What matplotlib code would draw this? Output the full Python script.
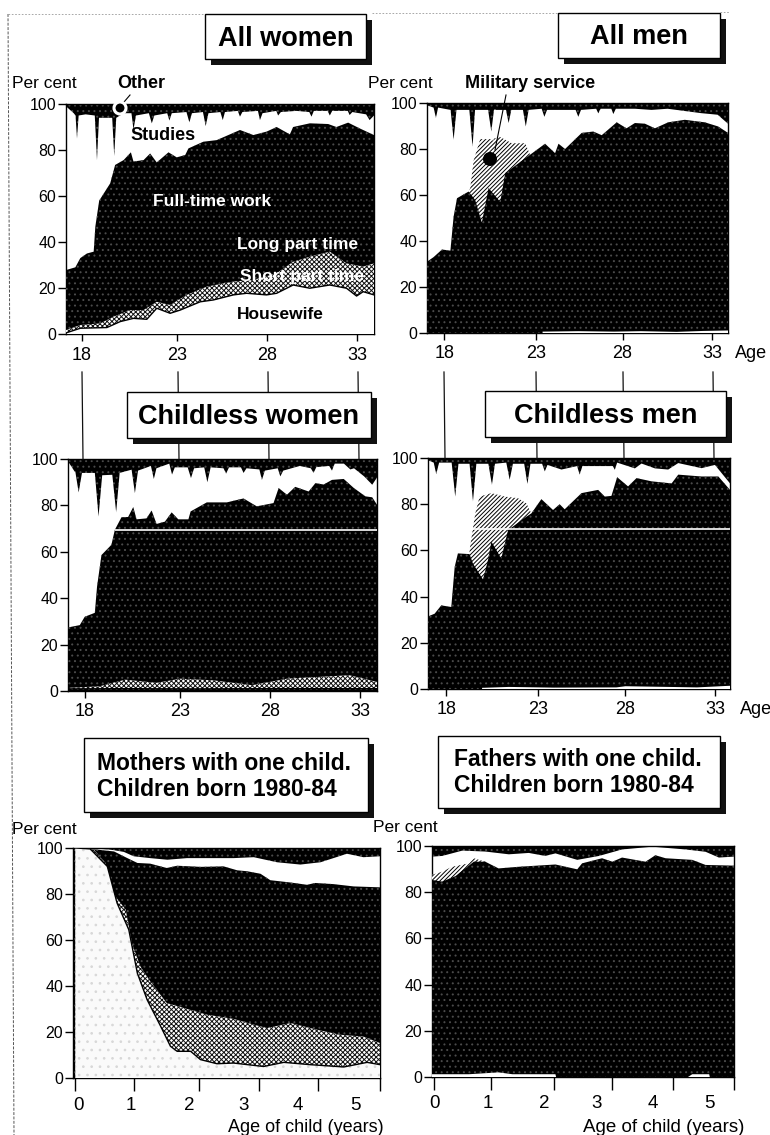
import matplotlib
matplotlib.use("Agg")
import matplotlib.pyplot as plt
from matplotlib.lines import Line2D
from matplotlib.patches import Rectangle, Circle

plt.rcParams['font.family'] = ['Liberation Sans', 'DejaVu Sans']
plt.rcParams['hatch.linewidth'] = 0.7

W, H = 770, 1135

# ---- All women
aw_other_x = [17.13, 17.55, 17.65, 17.73, 17.82, 18.2, 18.7, 18.82, 18.93, 19.3, 19.65, 19.76, 19.87, 20.3, 20.7, 20.81,
              20.95, 21.65, 21.81, 21.95, 22.65, 22.77, 22.9, 23.7, 23.86, 24, 24.6, 24.75, 24.9, 25.55, 25.68, 25.8,
              26.5, 26.62, 26.75, 27.6, 27.71, 27.85, 28.6, 28.7, 28.85, 29.7, 30.4, 30.52, 30.65, 31.4, 31.52, 31.65,
              32.5, 32.6, 32.75, 33.5, 33.69, 33.93]
aw_other_y = [99, 96, 95, 85, 95, 95.5, 95, 75.6, 94, 94, 94, 77.4, 94, 96, 96, 89,
              95, 96, 91.6, 95, 96, 92.8, 96, 96.5, 92, 96, 96.5, 90.4, 96, 96.5, 93, 96.5,
              97, 94.5, 96.5, 97, 93, 96, 97, 95, 96.5, 97, 96.5, 94.5, 97, 97, 95, 97,
              97, 95.2, 96.5, 95.5, 93, 95]
aw_work_x = [17.13, 17.64, 17.91, 18.27, 18.64, 18.73, 18.94, 19.54, 19.81, 20.27, 20.67, 20.81, 21.36, 21.72, 22.08,
             22.72, 23.17, 23.63, 23.81, 24.62, 25.35, 26.62, 27.35, 28.07, 28.62, 29.34, 29.52, 30.43, 31.43, 31.88,
             32.52, 33.15, 33.93]
aw_work_y = [27.8, 29, 33, 35, 35.8, 46.7, 58, 65.5, 73.5, 75.6, 79, 75, 75.6, 78.5, 74.6,
             79, 76.8, 77.8, 80.7, 83.6, 84.3, 88.7, 86.5, 88, 90, 86.8, 90, 91.6, 91.3, 90,
             91.9, 89.4, 86.5]
aw_short_x = [17.13, 17.91, 19, 19.72, 20.63, 21.36, 22.08, 22.81, 23.72, 24.81, 26.26, 27.35, 28.62, 29.52, 30.43,
              31.52, 32.43, 33.34, 33.93]
aw_short_y = [1.7, 3.9, 4.6, 7.5, 10.4, 10.4, 14, 12.6, 17, 20.6, 22.8, 23.5, 26.4, 31.4, 33.6,
              35.8, 30.7, 29.3, 30.7]
aw_house_x = [17.18, 17.91, 19.36, 20.09, 20.81, 21.54, 22.08, 22.81, 23.36, 24.45, 25.17, 26.26, 26.98, 28.07, 28.62,
              29.52, 30.43, 31.52, 32.43, 32.98, 33.34, 33.93]
aw_house_y = [0.6, 2.5, 2.8, 5.4, 6.8, 6.4, 11.2, 9, 10.4, 14, 14.8, 17, 17.7, 17, 17.7,
              21.3, 19.9, 21.3, 19.9, 16.5, 18.4, 17]

# ---- All men
am_other_x = [17.03, 17.4, 17.53, 17.65, 18.35, 18.52, 18.68, 19.4, 19.58, 19.72, 20.45, 20.63, 20.78, 21.45, 21.6,
              21.75, 22.4, 22.56, 22.72, 23.45, 23.6, 23.75, 25.35, 25.5, 25.65, 26.5, 26.62, 26.75, 27.35, 27.46,
              27.6, 28.67, 29.6, 30.5, 32.36, 33.3, 33.88]
am_other_y = [99, 98, 93.5, 98, 97, 84, 97, 97, 81, 97, 97, 87.6, 97, 97, 91.3,
              97, 97, 89.8, 97, 97.5, 94, 97, 97, 94, 97, 97.5, 95.5, 97.5, 97.5, 95.2,
              97.5, 97.5, 97, 97.5, 95.6, 94.9, 91]
am_mil_x = [19.36, 19.45, 19.64, 20.01, 20.66, 21.13, 21.78, 22.53, 22.8]
am_mil_y = [61.5, 63, 75, 84.3, 84.3, 85.2, 82.5, 82.5, 77.5]
am_work_x = [17.03, 17.4, 17.87, 18.34, 18.52, 18.71, 19.36, 19.73, 20.1, 20.48, 21.13, 21.41, 22.15, 22.8, 23.64, 24.2,
             24.39, 24.76, 25.69, 26.34, 26.81, 27.65, 28.2, 28.67, 29.23, 29.79, 30.53, 31.46, 32.58, 33.33, 33.88]
am_work_y = [31, 33, 36.3, 35.8, 50.6, 58.6, 61.5, 57.8, 48, 63, 57, 69.5, 73.8, 77.5, 82.3, 78.2,
             82.3, 80, 87, 87.6, 86, 91.6, 89, 91.3, 91, 89, 91.6, 92.7, 91.6, 89.8, 87]
am_house_x = [23.5, 25.5, 27.5, 29, 31, 32.5, 33.88]
am_house_y = [0.6, 0.8, 0.6, 0.8, 0.5, 0.9, 1.1]

# ---- Childless women
cw_other_x = [17.09, 17.5, 17.67, 17.85, 18.55, 18.75, 18.95, 19.5, 19.71, 19.9, 20.55, 20.73, 20.9, 21.6, 21.76, 21.9,
              22.6, 22.75, 22.9, 23.6, 23.78, 23.95, 24.5, 24.67, 24.85, 25.55, 25.69, 25.85, 26.5, 26.64, 26.8, 27.5,
              27.64, 27.8, 28.5, 28.64, 28.8, 29.7, 30.3, 30.45, 30.6, 31.3, 31.45, 31.6, 32.1, 32.45, 32.65, 33.2,
              33.64, 33.9]
cw_other_y = [99, 94, 85.6, 94, 94, 75.2, 93, 93.2, 77, 94, 95.4, 85.3, 95, 97, 91.4, 96,
              98, 93.3, 96.4, 96.4, 91.8, 96, 96.4, 90, 96.4, 96, 93.7, 96.4, 96.4, 94, 96, 95.5,
              91, 95, 96, 92.5, 95, 97, 96, 94, 96.5, 97, 95, 98, 98, 95.5, 96, 92.5,
              88.9, 92]
cw_work_x = [17.09, 17.73, 18, 18.55, 18.67, 18.91, 19.45, 19.64, 20, 20.36, 20.64, 20.82, 21.36, 21.64, 21.91, 22.36,
             22.73, 23.09, 23.64, 23.76, 24.64, 25.73, 26.64, 27.36, 28.27, 28.55, 29, 29.45, 30.18, 30.55, 31, 31.45,
             32.09, 32.64, 33.27, 33.64, 33.9]
cw_work_y = [27.4, 28.4, 32, 33.7, 45, 58.6, 63, 69.5, 74.9, 75, 79.3, 74, 74.4, 77.8, 72, 73,
             77, 74, 74, 77.4, 81.3, 81.3, 83, 79.6, 81, 87.5, 84.6, 88, 86, 89.6, 89, 91,
             91.4, 87.5, 83.9, 83.5, 80.3]
cw_short_x = [17.18, 18.8, 20.2, 21.9, 23.2, 25, 27.1, 29, 32.4, 33.9]
cw_short_y = [1.4, 2, 4.9, 3.5, 5.3, 4.6, 2.5, 5.3, 6.8, 3.9]
cw_house_x = [17.09, 20, 24, 28, 33.9]
cw_house_y = [0.9, 1, 0.9, 1, 1]

# ---- Childless men
cm_other_x = [16.98, 17.3, 17.44, 17.6, 18.3, 18.5, 18.68, 19.3, 19.49, 19.68, 20.35, 20.55, 20.72, 21.35, 21.54, 21.72,
              22.35, 22.53, 22.7, 23.35, 23.5, 23.65, 24.43, 25.3, 25.45, 25.6, 26.48, 27.3, 27.41, 27.54, 28.53, 28.9,
              29.65, 30.39, 30.95, 32.25, 33, 33.84]
cm_other_y = [99, 98, 93, 98, 98, 83.3, 97.5, 97.5, 81.2, 97.5, 97.5, 88.4, 97.5, 98, 90.6, 97.5,
              97.5, 88.8, 97.5, 97.5, 94.2, 97, 95, 96.5, 92.8, 96.5, 96.5, 96.5, 94.9, 98, 95.5, 97.6,
              95.5, 95, 97.8, 95.6, 97, 89]
cm_mil_x = [19.3, 19.62, 19.86, 20.52, 21.26, 22, 22.47, 22.75]
cm_mil_y = [60, 76, 83.3, 84.8, 83.3, 82.6, 80.4, 76]
cm_work_x = [16.98, 17.35, 17.72, 18.28, 18.47, 18.65, 19.3, 19.49, 20.05, 20.33, 20.52, 21.07, 21.45, 22.47, 22.75,
             23.31, 23.96, 24.33, 24.61, 25.55, 26.48, 26.85, 27.22, 27.54, 28.15, 28.62, 29.46, 30.58, 30.95, 32.25,
             33.19, 33.84]
cm_work_y = [31.4, 32.6, 36.2, 35.5, 52.9, 58.7, 58.4, 54.3, 47.4, 55.8, 63.8, 56.5, 68.8, 74.6, 76,
             82.2, 77.5, 80, 77.8, 84.8, 86.2, 83.3, 83.6, 91.7, 87.7, 91.3, 89.9, 89, 92.8, 92,
             92, 86.2]
cm_house_x = [20, 21.5, 24, 27.5, 28, 32, 33.84]
cm_house_y = [0.5, 0.9, 0.6, 0.7, 1.2, 0.7, 1.4]

# ---- Mothers with one child
mo_other_x = [0, 0.35, 0.57, 0.79, 0.95, 1.22, 1.5, 1.82, 2.31, 2.58, 2.91, 3.29, 3.67, 4, 4.21, 4.43, 4.7, 4.97]
mo_other_y = [100, 99.7, 99.3, 98.3, 96.4, 95.6, 94.9, 95.6, 95.6, 95.6, 96, 93.8, 92.8, 93.8, 95.6, 97.5, 96, 96.4]
mo_work_x = [0, 0.35, 0.63, 0.84, 1.01, 1.22, 1.49, 1.66, 2.04, 2.42, 2.64, 2.8, 3.02, 3.18, 3.51, 3.78, 3.91, 4.21,
             4.54, 4.97]
mo_work_y = [100, 99.3, 98.5, 95.7, 93.5, 93.2, 91.3, 92.3, 91.8, 92, 90.3, 89.9, 88.8, 86, 85, 84, 84.8, 84.3,
             83.3, 82.9]
mo_short_x = [0, 0.3, 0.49, 0.65, 0.82, 0.92, 1.06, 1.22, 1.49, 1.77, 2.15, 2.58, 2.91, 3.13, 3.51, 3.94, 4.32, 4.7,
              4.97]
mo_short_y = [100, 99.3, 93.5, 79, 73.2, 58.7, 48.5, 42, 32.6, 30.4, 27.5, 25.7, 23.2, 21.7, 23.9, 21, 18.8, 18,
              15.2]
mo_house_x = [0, 0.24, 0.52, 0.68, 0.87, 1.01, 1.17, 1.39, 1.55, 1.66, 1.88, 2.04, 2.31, 2.58, 3.07, 3.4, 3.83, 4.38,
              4.76, 4.97]
mo_house_y = [100, 99.6, 92, 76, 64.5, 45.6, 34, 22.5, 13.8, 11.6, 11.6, 8, 6.2, 6.5, 5, 6.8, 5.8, 4.8,
              6.8, 5.8]

# ---- Fathers with one child
fa_other_x = [-0.03, 0.14, 0.47, 0.85, 1.24, 1.57, 1.84, 2.01, 2.37, 2.73, 3.11, 3.61, 4.16, 4.49, 4.71, 4.96]
fa_other_y = [95.4, 95.7, 98, 97.6, 96.4, 97, 95.7, 96.8, 94, 95.7, 98.5, 99.7, 98.5, 97.5, 95, 95.4]
fa_mil_x = [-0.03, 0.14, 0.3, 0.58, 0.66, 0.85]
fa_mil_y = [87.5, 88.9, 91, 92.5, 94.7, 93.2]
fa_work_x = [-0.03, 0.14, 0.36, 0.66, 0.85, 1.07, 1.4, 2.01, 2.37, 2.45, 2.78, 2.95, 3.11, 3.5, 3.66, 3.83, 4.27, 4.49,
             4.96]
fa_work_y = [85.3, 84.6, 87, 93.2, 93.2, 90.3, 91, 92, 89.9, 92.5, 94.7, 93.2, 95, 93.2, 96, 94.7, 94, 91.8,
             91.5]
fa_house_x = [-0.03, 0.58, 1.07, 1.3, 2.01, 2.02, 4.2, 4.27, 4.55, 4.56]
fa_house_y = [1.2, 1.2, 2, 1.2, 1.2, 0, 0, 1.2, 1.2, 0]

age_ticks = [18, 23, 28, 33]
child_ticks = [0, 1, 2, 3, 4, 5]
y_ticks = [0, 20, 40, 60, 80, 100]

fig = plt.figure(figsize=(W / 100, H / 100), dpi=100, facecolor='white')


def fx(x):
    return x / W


def fy(y):
    return 1 - y / H


def panel(left, right, top, bottom, xlim):
    ax = fig.add_axes([fx(left), fy(bottom), fx(right - left), (bottom - top) / H])
    ax.set_xlim(*xlim)
    ax.set_ylim(0, 100)
    ax.set_yticks(y_ticks)
    ax.tick_params(axis='y', length=6, width=1, labelsize=11.5, pad=1)
    ax.tick_params(axis='x', length=5, width=1, labelsize=13, pad=4)
    for s in ax.spines.values():
        s.set_linewidth(1)
    return ax


def black(ax, x, y):
    # speckled black, like the scanned original
    ax.fill_between(x, 0, y, facecolor='black', edgecolor='#4a4a4a', hatch='...', linewidth=0, zorder=ax.z)
    ax.z += 1


def white(ax, x, y):
    ax.fill_between(x, 0, y, facecolor='white', linewidth=0, zorder=ax.z)
    ax.z += 1


def stack(ax, xlim, other, work, mil=None, short=None, house=None, house_dots=False, house_black=False):
    ax.z = 1
    black(ax, list(xlim), [100, 100])
    white(ax, *other)
    if mil is not None:
        ax.fill_between(*mil, 0, facecolor='white', edgecolor='black', hatch='////////', linewidth=0, zorder=ax.z)
        ax.z += 1
    black(ax, *work)
    if short is not None:
        ax.fill_between(*short, 0, facecolor='white', edgecolor='#111111', hatch='xxxxxxx', linewidth=0, zorder=ax.z)
        ax.z += 1
    if house is not None:
        if house_black:
            black(ax, *house)
        elif house_dots:
            ax.fill_between(*house, 0, facecolor='#fafafa', edgecolor='#d8d8d8', hatch='..', linewidth=0, zorder=ax.z)
        else:
            ax.fill_between(*house, 0, facecolor='white', linewidth=0, zorder=ax.z)
        ax.z += 1
        if short is not None:
            ax.plot(*house, color='black', lw=1, zorder=ax.z)
            ax.z += 1


# ---- top row
xl = (17.13, 33.93)
ax1 = panel(66, 374, 104, 334, xl)
stack(ax1, xl, (aw_other_x, aw_other_y), (aw_work_x, aw_work_y), short=(aw_short_x, aw_short_y),
      house=(aw_house_x, aw_house_y))
ax1.set_xticks([18, 23.18, 28.09, 33], age_ticks)

xl = (17.03, 33.88)
ax2 = panel(427, 728, 103, 333, xl)
stack(ax2, xl, (am_other_x, am_other_y), (am_work_x, am_work_y), mil=(am_mil_x, am_mil_y),
      house=(am_house_x, am_house_y))
ax2.set_xticks([18, 23.12, 27.98, 33], age_ticks)

# ---- middle row
xl = (17.09, 33.9)
ax3 = panel(68, 377, 459, 691, xl)
stack(ax3, xl, (cw_other_x, cw_other_y), (cw_work_x, cw_work_y), short=(cw_short_x, cw_short_y),
      house=(cw_house_x, cw_house_y), house_black=True)
ax3.hlines(69.5, 19.64, 33.9, color='white', lw=1.2, zorder=20)
ax3.set_xticks([18, 23.18, 28.09, 33], age_ticks)

xl = (16.98, 33.84)
ax4 = panel(428, 730, 458, 689, xl)
stack(ax4, xl, (cm_other_x, cm_other_y), (cm_work_x, cm_work_y), mil=(cm_mil_x, cm_mil_y),
      house=(cm_house_x, cm_house_y))
ax4.hlines(69.2, 19.5, 33.84, color='white', lw=1.2, zorder=20)
ax4.set_xticks([18, 23.12, 28, 33], age_ticks)

# ---- bottom row, tick marks and labels do not line up in the original
xl = (-0.04, 4.97)
ax5 = panel(73, 380, 848, 1078, xl)
stack(ax5, xl, (mo_other_x, mo_other_y), (mo_work_x, mo_work_y), short=(mo_short_x, mo_short_y),
      house=(mo_house_x, mo_house_y), house_dots=True)
ax5.set_xticks([0, 0.96, 2.01, 2.99, 3.96, 4.97], [''] * 6)

xl = (-0.03, 4.96)
ax6 = panel(432, 734, 846, 1077, xl)
stack(ax6, xl, (fa_other_x, fa_other_y), (fa_work_x, fa_work_y), mil=(fa_mil_x, fa_mil_y),
      house=(fa_house_x, fa_house_y))
ax6.set_xticks([0, 0.95, 1.98, 2.94, 3.95, 4.96], [''] * 6)

for ax in [ax5, ax6]:
    ax.tick_params(axis='x', length=9)


def txt(x, y, s, **kw):
    kw.setdefault('fontsize', 12.5)
    kw.setdefault('va', 'center')
    fig.text(fx(x), fy(y), s, **kw)


for x, s in zip([78, 131, 189, 244, 298, 355], child_ticks):
    txt(x, 1106, str(s), ha='center', fontsize=13.5)
for x, s in zip([435, 488, 544, 597, 653, 709], child_ticks):
    txt(x, 1104, str(s), ha='center', fontsize=13.5)

# ---- small labels
txt(12, 84, 'Per cent')
txt(368, 83, 'Per cent')
txt(12, 829, 'Per cent')
txt(373, 827, 'Per cent')
txt(735, 353, 'Age', fontsize=13)
txt(740, 709, 'Age', fontsize=13)
txt(228, 1128, 'Age of child (years)', fontsize=13)
txt(583, 1127, 'Age of child (years)', fontsize=13.5)
txt(117, 84, 'Other', fontweight='bold', fontsize=13)
txt(465, 84, 'Military service', fontweight='bold', fontsize=13)
txt(130, 135, 'Studies', fontweight='bold', fontsize=13)
txt(153, 201, 'Full-time work', color='white', fontweight='bold', fontsize=12.5)
txt(237, 244, 'Long part time', color='white', fontweight='bold', fontsize=12.5)
txt(240, 277, 'Short part time', color='white', fontweight='bold', fontsize=12.5)
txt(237, 314, 'Housewife', fontweight='bold', fontsize=12.5)

# ---- leaders and markers
fig.add_artist(Line2D([fx(130), fx(124)], [fy(95), fy(102)], color='black', lw=0.8))
fig.add_artist(Line2D([fx(506), fx(495)], [fy(95), fy(150)], color='black', lw=0.8))
fig.add_artist(Line2D([fx(495), fx(493)], [fy(110), fy(140)], color='white', lw=0.8, zorder=2.1))
for x, y, r, fc, ec, lw in [(120, 108, 6, 'black', 'white', 2.2), (490, 159, 7, 'black', 'black', 0)]:
    fig.add_artist(Circle((x, H - y), r, facecolor=fc, edgecolor=ec, linewidth=lw, transform=None, zorder=2.5))

# ---- vertical rules between the rows
for x in [82, 178, 268, 358]:
    fig.add_artist(Line2D([fx(x), fx(x + 1)], [fy(372), fy(459)], color='#111111', lw=0.9, zorder=0.5))
for x in [444, 536, 623, 713]:
    fig.add_artist(Line2D([fx(x), fx(x + 1)], [fy(372), fy(458)], color='#111111', lw=0.9, zorder=0.5))

# ---- scan edges
fig.add_artist(Line2D([fx(8), fx(14)], [fy(14), fy(1135)], color='#555555', lw=0.7, ls=(0, (3, 1.5))))
fig.add_artist(Line2D([fx(8), fx(205)], [fy(14), fy(14)], color='#999999', lw=0.6, ls=(0, (2, 2))))
fig.add_artist(Line2D([fx(372), fx(558)], [fy(13), fy(13)], color='#999999', lw=0.6, ls=(0, (2, 2))))
fig.add_artist(Line2D([fx(720), fx(730)], [fy(12), fy(12)], color='#999999', lw=0.6, ls=(0, (2, 2))))


# ---- title boxes with drop shadow
def box(x0, x1, y0, y1, lines, tx=None):
    fig.add_artist(Rectangle((fx(x0 + 6), fy(y1 + 6)), (x1 - x0) / W, (y1 - y0) / H, facecolor='#111111',
                             edgecolor='none', zorder=2.2))
    fig.add_artist(Rectangle((fx(x0), fy(y1)), (x1 - x0) / W, (y1 - y0) / H, facecolor='white',
                             edgecolor='black', lw=1, zorder=2.3))
    n = len(lines)
    for i, s in enumerate(lines):
        y = (y0 + y1) / 2 + (i - (n - 1) / 2) * 26
        if tx is None:
            txt((x0 + x1) / 2, y + 2, s, ha='center', fontweight='bold', fontsize=19.5)
        else:
            txt(tx, y + 1, s, ha='left', fontweight='bold', fontsize=16.5)


box(205, 366, 14, 59, ['All women'])
box(558, 720, 13, 58, ['All men'])
box(127, 371, 392, 438, ['Childless women'])
box(485, 726, 391, 437, ['Childless men'])
box(84, 368, 738, 812, ['Mothers with one child.', 'Children born 1980-84'], tx=97)
box(438, 720, 736, 808, ['Fathers with one child.', 'Children born 1980-84'], tx=454)

fig.savefig('out.png', dpi=100)
